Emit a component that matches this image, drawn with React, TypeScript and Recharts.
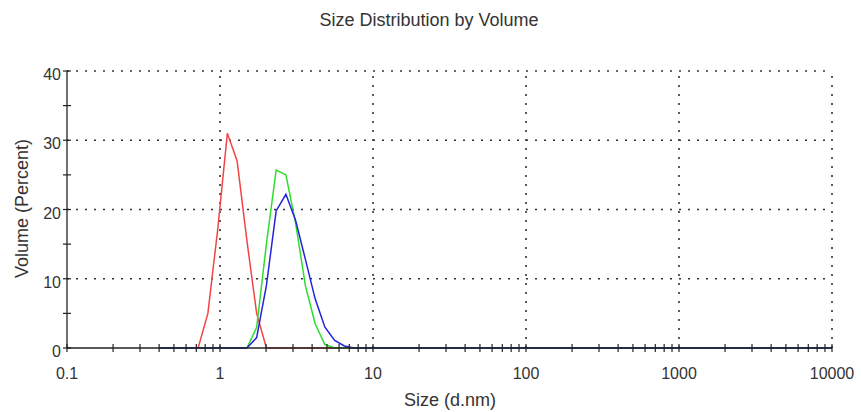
import React from "react";
import { LineChart, Line, XAxis, YAxis, ReferenceLine } from "recharts";

const sizes = [
  0.4, 0.4632, 0.5365, 0.6213, 0.7195, 0.8332, 0.9649, 1.117, 1.294, 1.499,
  1.736, 2.01, 2.328, 2.696, 3.122, 3.615, 4.187, 4.849, 5.615, 6.503,
  7.531, 8.721, 10.1, 11.7, 13.54, 15.69, 18.17, 21.04, 24.36, 28.21,
  32.67, 37.84, 43.82, 50.75, 58.77, 68.06, 78.82, 91.28, 105.7, 122.4,
  141.8, 164.2, 190.1, 220.2, 255, 295.3, 342, 396.1, 458.7, 531.2,
  615.1, 712.4, 825, 955.4, 1106, 1281, 1484, 1718, 1990, 2305,
  2669, 3091, 3580, 4145, 4801, 5560, 6439, 7456, 8635, 10000,
];

const redVolume = [
  0, 0, 0, 0, 0, 5, 17, 31, 27, 15.5,
  5, 0, 0, 0, 0, 0, 0, 0, 0, 0,
  0, 0, 0, 0, 0, 0, 0, 0, 0, 0,
  0, 0, 0, 0, 0, 0, 0, 0, 0, 0,
  0, 0, 0, 0, 0, 0, 0, 0, 0, 0,
  0, 0, 0, 0, 0, 0, 0, 0, 0, 0,
  0, 0, 0, 0, 0, 0, 0, 0, 0, 0,
];

const greenVolume = [
  0, 0, 0, 0, 0, 0, 0, 0, 0, 0,
  3, 15, 25.7, 25, 18, 9, 3.5, 0.5, 0, 0,
  0, 0, 0, 0, 0, 0, 0, 0, 0, 0,
  0, 0, 0, 0, 0, 0, 0, 0, 0, 0,
  0, 0, 0, 0, 0, 0, 0, 0, 0, 0,
  0, 0, 0, 0, 0, 0, 0, 0, 0, 0,
  0, 0, 0, 0, 0, 0, 0, 0, 0, 0,
];

const blueVolume = [
  0, 0, 0, 0, 0, 0, 0, 0, 0, 0,
  1.5, 9, 19.8, 22.2, 18.4, 12.8, 7.1, 3, 1.1, 0.3,
  0, 0, 0, 0, 0, 0, 0, 0, 0, 0,
  0, 0, 0, 0, 0, 0, 0, 0, 0, 0,
  0, 0, 0, 0, 0, 0, 0, 0, 0, 0,
  0, 0, 0, 0, 0, 0, 0, 0, 0, 0,
  0, 0, 0, 0, 0, 0, 0, 0, 0, 0,
];

const xMajorTicks = [0.1, 1, 10, 100, 1000, 10000];
const xMinorTicks = [
  0.2, 0.3, 0.4, 0.5, 0.6, 0.7, 0.8, 0.9,
  2, 3, 4, 5, 6, 7, 8, 9,
  20, 30, 40, 50, 60, 70, 80, 90,
  200, 300, 400, 500, 600, 700, 800, 900,
  2000, 3000, 4000, 5000, 6000, 7000, 8000, 9000,
];
const xTickLabels = ["0.1", "1", "10", "100", "1000", "10000"];

const yMajorTicks = [0, 10, 20, 30, 40];
const yMinorTicks = [5, 15, 25, 35];

const title = "Size Distribution by Volume";
const xLabel = "Size (d.nm)";
const yLabel = "Volume (Percent)";

const data = sizes.map((s, i) => ({
  size: s,
  red: redVolume[i],
  green: greenVolume[i],
  blue: blueVolume[i],
}));

const FONT = "'Liberation Sans', Arial, sans-serif";
const TEXT = "#333";
const AXIS = "#222";

const XTick = (props: any) => {
  const { x, y, payload } = props;
  const idx = xMajorTicks.indexOf(payload.value);
  return (
    <g>
      <line x1={x} x2={x} y1={y - 4} y2={y + 4} stroke={AXIS} strokeWidth={1.2} />
      {idx >= 0 && (
        <text x={x} y={y + 31} textAnchor="middle" fontSize={16} fontFamily={FONT} fill={TEXT}>
          {xTickLabels[idx]}
        </text>
      )}
    </g>
  );
};

const YTick = (props: any) => {
  const { x, y, payload } = props;
  const major = yMajorTicks.indexOf(payload.value) >= 0;
  return (
    <g>
      <line x1={x - 4} x2={x + 4} y1={y} y2={y} stroke={AXIS} strokeWidth={1.2} />
      {major && (
        <text x={x - 6} y={y + 9} textAnchor="end" fontSize={16} fontFamily={FONT} fill={TEXT}>
          {String(payload.value)}
        </text>
      )}
    </g>
  );
};

const gridStyle = { stroke: "#333", strokeWidth: 1.6, strokeDasharray: "2 7" };

export default function App() {
  return (
    <div style={{ position: "absolute", left: 0, top: 0, width: 861, height: 412, background: "#fff" }}>
      <LineChart
        width={861}
        height={412}
        data={data}
        margin={{ top: 71, right: 29, bottom: 14, left: 7 }}
      >
        <XAxis
          dataKey="size"
          type="number"
          scale="log"
          domain={[0.1, 10000]}
          ticks={[...xMajorTicks, ...xMinorTicks]}
          interval={0}
          tickSize={0}
          tickMargin={0}
          tickLine={false}
          tick={<XTick />}
          height={50}
          axisLine={{ stroke: AXIS, strokeWidth: 1.3 }}
          allowDataOverflow
        />
        <YAxis
          type="number"
          domain={[0, 40]}
          ticks={[...yMajorTicks, ...yMinorTicks]}
          interval={0}
          tickSize={0}
          tickMargin={0}
          tickLine={false}
          tick={<YTick />}
          width={60}
          axisLine={{ stroke: AXIS, strokeWidth: 1.3 }}
        />
        {xMajorTicks.slice(1).map((v) => (
          <ReferenceLine key={"x" + v} x={v} {...gridStyle} ifOverflow="extendDomain" />
        ))}
        {yMajorTicks.slice(1).map((v) => (
          <ReferenceLine key={"y" + v} y={v} {...gridStyle} />
        ))}
        <Line type="linear" dataKey="red" stroke="#f04545" strokeWidth={1.5} dot={false} isAnimationActive={false} />
        <Line type="linear" dataKey="green" stroke="#2fdc2f" strokeWidth={1.5} dot={false} isAnimationActive={false} />
        <Line type="linear" dataKey="blue" stroke="#2424dc" strokeWidth={1.5} dot={false} isAnimationActive={false} />
      </LineChart>
      <svg
        width={861}
        height={412}
        style={{ position: "absolute", left: 0, top: 0, pointerEvents: "none" }}
      >
        <text x={429} y={26} textAnchor="middle" fontSize={18} fontFamily={FONT} fill={TEXT}>
          {title}
        </text>
        <text x={450} y={406} textAnchor="middle" fontSize={18} fontFamily={FONT} fill={TEXT}>
          {xLabel}
        </text>
        <text
          x={28}
          y={208.5}
          textAnchor="middle"
          fontSize={18}
          fontFamily={FONT}
          fill={TEXT}
          transform="rotate(-90, 28, 208.5)"
        >
          {yLabel}
        </text>
      </svg>
    </div>
  );
}
